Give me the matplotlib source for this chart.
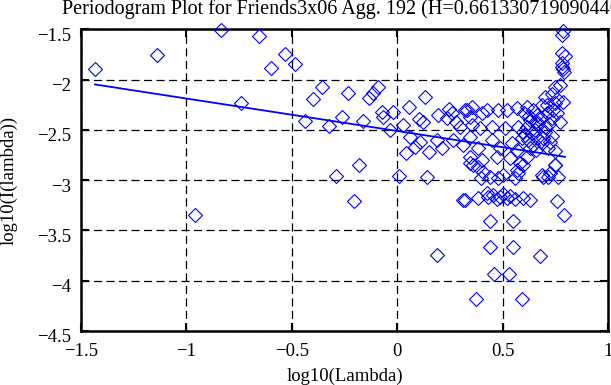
import matplotlib
matplotlib.use("Agg")
import matplotlib.pyplot as plt
from matplotlib.ticker import FuncFormatter, FixedLocator
from matplotlib.transforms import ScaledTranslation
import numpy as np

plt.rcParams['font.family'] = ['Liberation Serif', 'DejaVu Serif']

title = "Periodogram Plot for Friends3x06 Agg. 192 (H=0.661330719090446)"
xlabel = "log10(Lambda)"
ylabel = "log10(I(lambda))"
hurst = 0.661330719090446
intercept = -2.511

log_lambda = [
    -1.434, -1.139, -0.959, -0.836, -0.740, -0.656, -0.599, -0.532, -0.485, -0.439,
    -0.399, -0.357, -0.322, -0.292, -0.260, -0.232, -0.205, -0.180, -0.161, -0.132,
    -0.113, -0.090, -0.074, -0.066, -0.034, -0.021, 0.009, 0.029, 0.042, 0.056,
    0.061, 0.084, 0.105, 0.108, 0.124, 0.132, 0.143, 0.152, 0.187, 0.187,
    0.195, 0.211, 0.235, 0.246, 0.258, 0.266, 0.279, 0.298, 0.313, 0.313,
    0.330,
    0.322, 0.345, 0.353, 0.400, 0.424, 0.480, 0.519, 0.567, 0.614, 0.646,
    0.662, 0.709, 0.733, 0.772, 0.630, 0.669, 0.701, 0.614, 0.598, 0.638,
    0.662, 0.622, 0.685, 0.646, 0.717, 0.749, 0.749, 0.614, 0.353, 0.393,
    0.448, 0.511, 0.575, 0.345, 0.448, 0.487, 0.543, 0.590, 0.567, 0.385,
    0.345, 0.400, 0.472, 0.535, 0.583,
    0.600, 0.625, 0.655, 0.680, 0.700, 0.720, 0.735, 0.690, 0.660, 0.630,
    0.605, 0.655, 0.740, 0.760, 0.710, 0.725,
    0.749, 0.772, 0.733, 0.701, 0.757, 0.788, 0.749, 0.685, 0.780, 0.793,
    0.780, 0.788, 0.780, 0.780, 0.796, 0.788,
    0.345, 0.361, 0.385, 0.408, 0.440, 0.500, 0.567, 0.598, 0.575, 0.693,
    0.725, 0.749, 0.764, 0.480, 0.398, 0.559, 0.716, 0.685,
    0.322, 0.382, 0.432, 0.456, 0.472, 0.488, 0.503, 0.519, 0.535, 0.559,
    0.595, 0.630, 0.427, 0.757, 0.791,
    0.440, 0.551, 0.440, 0.548, 0.677, 0.461, 0.532, 0.374, 0.594,
]
log_periodogram = [
    -1.895, -1.760, -3.346, -1.507, -2.230, -1.566, -1.880, -1.750, -1.850, -2.415,
    -2.196, -2.070, -2.461, -2.958, -2.370, -2.136, -3.210, -2.850, -2.410, -2.180,
    -2.136, -2.070, -2.320, -2.370, -2.500, -2.320, -2.955, -2.450, -2.730, -2.270,
    -2.570, -2.670, -2.390, -2.620, -2.420, -2.170, -2.965, -2.720, -2.600, -3.740,
    -2.350, -2.680, -2.385, -2.295, -2.335, -2.600, -2.420, -2.470, -2.650, -3.200,
    -2.300,
    -2.300, -2.370, -2.270, -2.335, -2.300, -2.300, -2.300, -2.285, -2.270, -2.300,
    -2.350, -2.335, -2.385, -2.420, -2.400, -2.435, -2.470, -2.470, -2.520, -2.535,
    -2.585, -2.600, -2.635, -2.650, -2.680, -2.715, -2.850, -2.770, -2.450, -2.485,
    -2.470, -2.485, -2.470, -2.570, -2.600, -2.680, -2.635, -2.585, -2.700, -2.680,
    -2.770, -2.800, -2.770, -2.780, -2.830,
    -2.330, -2.360, -2.420, -2.380, -2.520, -2.440, -2.560, -2.580, -2.700, -2.680,
    -2.550, -2.500, -2.300, -2.330, -2.250, -2.620,
    -2.070, -2.050, -2.140, -2.170, -2.190, -2.220, -2.235, -2.250, -1.870, -1.920,
    -1.840, -1.520, -1.560, -1.740, -1.770, -1.890,
    -2.832, -2.850, -2.866, -2.915, -2.965, -2.948, -2.900, -2.850, -2.930, -2.965,
    -2.930, -2.850, -2.965, -2.980, -2.980, -2.980, -2.970, -2.950,
    -3.197, -3.180, -3.170, -3.150, -3.190, -3.170, -3.140, -3.180, -3.160, -3.190,
    -3.180, -3.197, -3.130, -3.210, -3.345,
    -3.410, -3.410, -3.660, -3.660, -3.750, -3.930, -3.930, -4.180, -4.180,
]

x_ticks = [-1.5, -1.0, -0.5, 0.0, 0.5, 1.0]
y_ticks = [-4.5, -4.0, -3.5, -3.0, -2.5, -2.0, -1.5]

fig = plt.figure(figsize=(6.11, 3.85), dpi=100)
ax = fig.add_axes([81/611, 1-331/385, 527/611, 301.7/385])

x = np.array(log_lambda)
y = np.array(log_periodogram)
ax.plot(x, y, linestyle='none', marker='D', ms=6.7, mfc='none', mec='#0000ff', mew=0.8, clip_on=False, zorder=3)

slope = 1 - 2 * hurst
xl = np.array([x.min(), x.max()])
ax.plot(xl, intercept + slope * xl, color='#0000ff', lw=1.3, zorder=4)

ax.set_xlim(-1.5, 1.0)
ax.set_ylim(-4.5, -1.5)

def fmt(v, pos):
    return ('%g' % v).replace('-', '\u2212')

ax.xaxis.set_major_locator(FixedLocator(x_ticks))
ax.yaxis.set_major_locator(FixedLocator(y_ticks))
ax.xaxis.set_major_formatter(FuncFormatter(fmt))
ax.yaxis.set_major_formatter(FuncFormatter(fmt))

ax.grid(True, color='black', linestyle=(0, (6.5, 3.5)), linewidth=0.9)
ax.set_axisbelow(True)
ax.tick_params(direction='in', length=6, width=1.5, top=True, right=True, labelsize=13.5, colors='black')
ax.tick_params(axis='x', pad=9)
ax.tick_params(axis='y', pad=7)
for sp in ax.spines.values():
    sp.set_linewidth(1.8)
    sp.set_color('black')

off = ScaledTranslation(0, -5/100, fig.dpi_scale_trans)
for lab in ax.get_yticklabels():
    lab.set_transform(lab.get_transform() + off)

ax.set_xlabel(xlabel, fontsize=13.5)
ax.set_ylabel(ylabel, fontsize=13.5)
ax.xaxis.set_label_coords(0.5, -(376-331)/301.7)
ax.yaxis.set_label_coords((9-81)/527, 0.5)
ax.yaxis.label.set_va('center')
ax.xaxis.label.set_va('center')

ax.set_title(title, fontsize=14.5, y=1 + (29.3-9)/301.7, va='center', pad=0)

fig.savefig("out.png", dpi=100)
